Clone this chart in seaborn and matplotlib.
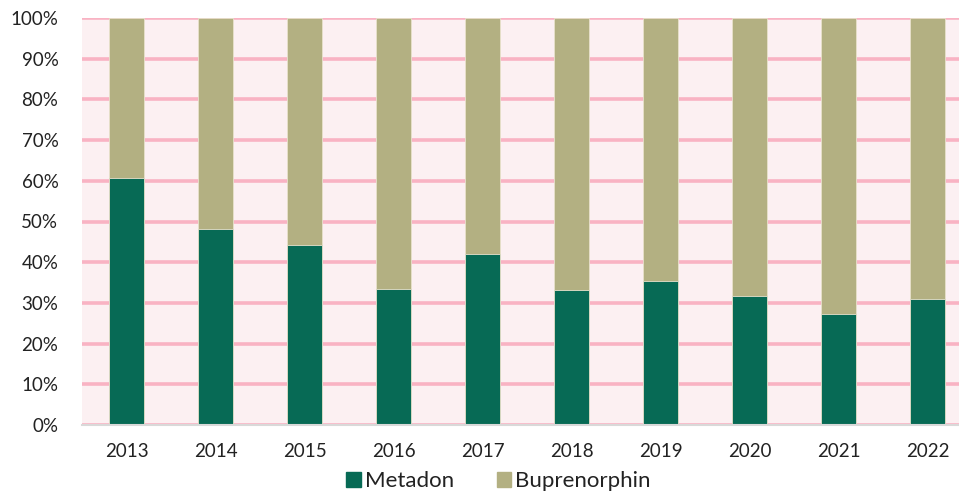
import numpy as np
import pandas as pd
import matplotlib
matplotlib.use('Agg')
import matplotlib.pyplot as plt
import seaborn as sns
from matplotlib.patches import Patch
from matplotlib.ticker import FuncFormatter

years = ['2013', '2014', '2015', '2016', '2017', '2018', '2019', '2020', '2021', '2022']
metadon = [60.7, 48.2, 44.2, 33.4, 42.0, 33.2, 35.4, 31.7, 27.3, 31.0]
buprenorphin = [100 - m for m in metadon]

df = pd.DataFrame({'Year': years, 'Metadon': metadon, 'Buprenorphin': buprenorphin})
df['Total'] = df['Metadon'] + df['Buprenorphin']

green = '#076A55'
khaki = '#B3B082'

sns.set_style('white')
plt.rcParams['font.family'] = ['Lato', 'DejaVu Sans']

fig = plt.figure(figsize=(9.59, 4.92), dpi=100)
ax = fig.add_axes([82/959, 67/492, 877/959, 407/492])
ax.set_facecolor('#FCF0F2')

## stacked: full bar first, metadon drawn over it
sns.barplot(data=df, x='Year', y='Total', color=khaki, width=0.4, saturation=1,
            edgecolor='#E8E2CC', linewidth=0.6, ax=ax, zorder=3)
sns.barplot(data=df, x='Year', y='Metadon', color=green, width=0.4, saturation=1,
            edgecolor='#E8E2CC', linewidth=0.6, ax=ax, zorder=4)

ax.set_ylim(0, 100)
ax.set_xlim(-0.5, -0.5 + 877/89)
ax.set_yticks(np.arange(0, 101, 10))
ax.yaxis.set_major_formatter(FuncFormatter(lambda v, p: '{:d}%'.format(int(v))))
ax.grid(axis='y', color='#F9B3C3', linewidth=2.6, zorder=1)
ax.grid(axis='x', visible=False)
ax.set_axisbelow(True)
for s in ['top', 'right', 'left']:
    ax.spines[s].set_visible(False)
ax.spines['bottom'].set_color('#D9D9D9')
ax.spines['bottom'].set_linewidth(1.5)
ax.spines['bottom'].set_zorder(5)
ax.tick_params(axis='both', length=0, labelsize=13.5, colors='#222222')
ax.tick_params(axis='x', pad=13)
ax.tick_params(axis='y', pad=17)
ax.set_xlabel('')
ax.set_ylabel('')

handles = [Patch(color=green, label='Metadon'), Patch(color=khaki, label='Buprenorphin')]
fig.legend(handles=handles, loc='center', bbox_to_anchor=(0.52, 1 - 481/492), ncol=2,
           frameon=False, fontsize=16, handlelength=0.65, handleheight=0.65,
           handletextpad=0.2, columnspacing=1.9, labelcolor='#222222')

fig.savefig('out.png', dpi=100)
